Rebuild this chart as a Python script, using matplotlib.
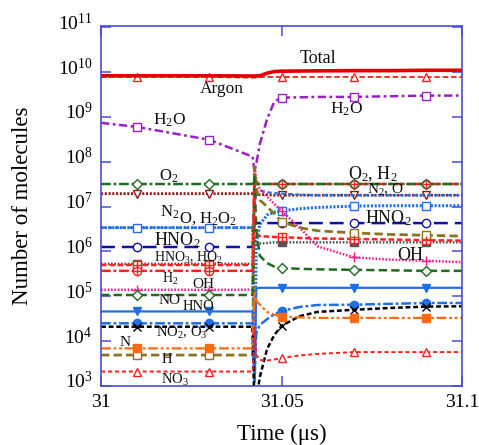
import math
import matplotlib
matplotlib.use("Agg")
import matplotlib.pyplot as plt
from matplotlib.transforms import ScaledTranslation
from matplotlib.ticker import FixedLocator, FuncFormatter

plt.rcParams['font.family'] = ['Liberation Serif', 'DejaVu Serif']
plt.rcParams['mathtext.fontset'] = 'custom'
plt.rcParams['mathtext.rm'] = 'Liberation Serif'
plt.rcParams['mathtext.it'] = 'Liberation Serif:italic'
plt.rcParams['lines.scale_dashes'] = False

# time grid (us)
t = [31.0, 31.01, 31.03, 31.042, 31.0425, 31.043, 31.044, 31.046, 31.048,
     31.05, 31.055, 31.06, 31.07, 31.08, 31.09, 31.1]

# number of molecules for each species on that grid
total = [8.3e9, 8.3e9, 8.3e9, 8.2e9, 8.2e9, 8.2e9, 8.3e9, 9.5e9, 1.03e10,
         1.05e10, 1.06e10, 1.07e10, 1.08e10, 1.08e10, 1.1e10, 1.1e10]
argon = [7.8e9, 7.8e9, 7.8e9, 7.5e9, 7.5e9, 7.6e9, 7.7e9, 7.8e9, 7.8e9,
         7.8e9, 7.8e9, 7.8e9, 7.8e9, 7.8e9, 7.8e9, 7.8e9]
h2o = [7.4e8, 6.0e8, 3.1e8, 1.3e8, 6.0e7, 9e7, 2.5e8, 9e8, 2.2e9,
       2.7e9, 2.75e9, 2.8e9, 2.8e9, 2.9e9, 3.0e9, 3.0e9]
o2 = [3.2e7, 3.2e7, 3.2e7, 3.2e7, 3.6e7, 3.3e7, 3.2e7, 3.2e7, 3.2e7,
      3.2e7, 3.2e7, 3.2e7, 3.2e7, 3.2e7, 3.2e7, 3.2e7]
n2 = [1.95e7, 1.95e7, 1.95e7, 1.95e7, 1.9e7, 1.85e7, 1.85e7, 1.85e7, 1.8e7,
      1.8e7, 1.8e7, 1.8e7, 1.8e7, 1.8e7, 1.8e7, 1.8e7]
o = [3.4e6, 3.4e6, 3.4e6, 3.4e6, 1.0e7, 2.4e7, 2.3e7, 2.1e7, 2.0e7,
     1.95e7, 1.85e7, 1.8e7, 1.8e7, 1.8e7, 1.8e7, 1.8e7]
h2o2 = [3.4e6, 3.4e6, 3.4e6, 3.4e6, 1.2e3, 1.5e6, 4e6, 6.5e6, 7.5e6,
        8e6, 9e6, 9.6e6, 1.03e7, 1.05e7, 1.05e7, 1.05e7]
hno2 = [1.26e6, 1.26e6, 1.26e6, 1.26e6, 4.0e6, 4.3e6, 4.3e6, 4.3e6, 4.3e6,
        4.3e6, 4.3e6, 4.3e6, 4.3e6, 4.3e6, 4.3e6, 4.3e6]
hno3 = [5.3e5, 5.3e5, 5.3e5, 5.3e5, 2e6, 1.5e6, 1.5e6, 1.55e6, 1.6e6,
        1.6e6, 1.6e6, 1.6e6, 1.6e6, 1.6e6, 1.6e6, 1.6e6]
ho2 = [5.0e5, 5.0e5, 5.0e5, 5.0e5, 2.4e6, 2.3e6, 2.2e6, 2.15e6, 2.1e6,
       2.1e6, 2.0e6, 1.95e6, 1.9e6, 1.85e6, 1.78e6, 1.75e6]
h2 = [3.7e5, 3.7e5, 3.7e5, 3.7e5, 3.2e7, 3.2e7, 3.2e7, 3.2e7, 3.2e7,
      3.2e7, 3.2e7, 3.2e7, 3.2e7, 3.2e7, 3.2e7, 3.2e7]
oh = [1.4e5, 1.4e5, 1.4e5, 1.4e5, 8e7, 4e7, 2.4e7, 1.66e7, 1.15e7,
      8e6, 3.4e6, 1.3e6, 7.4e5, 6.6e5, 6.2e5, 5.8e5]
h = [4.9e3, 4.9e3, 4.9e3, 4.9e3, 8e7, 2.5e7, 1.4e7, 1.0e7, 6.9e6,
     4.6e6, 3.4e6, 2.9e6, 2.6e6, 2.4e6, 2.3e6, 2.2e6]
no = [1.07e5, 1.07e5, 1.07e5, 1.07e5, 5e7, 3e6, 8e5, 5.5e5, 4.6e5,
      4.3e5, 4.1e5, 4.0e5, 3.9e5, 3.8e5, 3.7e5, 3.7e5]
hno = [4.6e4, 4.6e4, 4.6e4, 4.6e4, 1.2e3, 1.5e5, 1.55e5, 1.55e5, 1.55e5,
       1.55e5, 1.55e5, 1.55e5, 1.55e5, 1.55e5, 1.55e5, 1.55e5]
no2 = [2.5e4, 2.5e4, 2.5e4, 2.5e4, 1.2e3, 1.5e4, 2.3e4, 3.1e4, 4.0e4,
       4.7e4, 5.8e4, 6.4e4, 6.5e4, 6.8e4, 7.1e4, 7.1e4]
o3 = [2.1e4, 2.1e4, 2.1e4, 2.1e4, 3e2, 5e2, 1.6e3, 6.7e3, 1.37e4,
      2.2e4, 3.6e4, 4.5e4, 5.0e4, 5.5e4, 5.9e4, 6.0e4]
n = [6.9e3, 6.9e3, 6.9e3, 6.9e3, 1.2e5, 8e4, 6.5e4, 4.5e4, 3.9e4,
     3.5e4, 3.4e4, 3.3e4, 3.3e4, 3.3e4, 3.3e4, 3.3e4]
no3 = [2.1e3, 2.1e3, 2.1e3, 2.1e3, 2e4, 5e3, 3.8e3, 3.7e3, 3.9e3,
       4.2e3, 4.8e3, 5.2e3, 5.7e3, 5.7e3, 5.7e3, 5.7e3]

marks = [1, 2, 9, 12, 14]   # points that carry a marker

RED = '#ff2020'
BLUE = '#1f6fe6'
GREEN = '#1f6b1f'

# (values, color, lw, dashes, marker, filled, marker size)
series = [
    (argon, RED, 1.3, (4, 2), '^', False, 6),
    (total, '#e00000', 2.6, None, None, False, 0),
    (h2o, '#9a1fc4', 1.8, (6, 2.5, 2, 2.5), 's', False, 6),
    (n2, '#8b1a1a', 2.0, (1.5, 1.2), 'v', False, 6),
    (o, BLUE, 1.6, (3, 2), None, False, 0),
    (h2o2, BLUE, 2.2, (1.5, 1.2), 's', False, 6),
    (hno2, '#1010a8', 1.8, (10, 5), 'o', False, 6),
    (hno3, '#555555', 1.8, (1.2, 1.2), 's', True, 6),
    (ho2, RED, 1.8, (4, 2), 's', False, 6),
    (oh, '#ff1a8c', 1.8, (1.2, 1.2), '+', False, 7),
    (h, '#8a7420', 2.0, (6, 3), 's', False, 6),
    (no, GREEN, 1.8, (6, 3), 'D', False, 5),
    (hno, BLUE, 1.6, None, 'v', True, 6),
    (no2, BLUE, 1.8, (7, 2, 2, 2), 'o', True, 6),
    (o3, 'black', 1.8, (3.5, 2), 'x', False, 6),
    (n, '#ff6a10', 1.6, (7, 2, 2, 2, 2, 2), 's', True, 6),
    (no3, RED, 1.4, (3, 2), '^', False, 6),
    (h2, RED, 1.8, (7, 2, 2, 2), 'o', False, 6),
    (o2, GREEN, 1.8, (7, 2, 2, 2), 'D', False, 5),
]

fig = plt.figure(figsize=(4.79, 4.45), dpi=100)
ax = fig.add_axes([0.2109, 0.1326, 0.7537, 0.809])

for vals, col, lw, dash, mk, filled, ms in series:
    line, = ax.plot(t, vals, color=col, lw=lw)
    if dash is not None:
        line.set_dashes(dash)
    if mk is not None:
        ax.plot(t, vals, ls='none', marker=mk, markevery=marks, ms=ms,
                mec=col, mfc=col if filled else 'white', mew=1.0)

# cross marks inside HO2 squares and H2 circles
ax.plot(t, ho2, ls='none', marker='+', markevery=marks, ms=6, mec=RED, mew=1.0)
ax.plot(t, h2, ls='none', marker='+', markevery=marks, ms=6, mec=RED, mew=1.0)

ax.set_yscale('log')
ax.set_xlim(31.0, 31.1)
ax.set_ylim(1e3, 1.07e11)

ax.xaxis.set_major_locator(FixedLocator([31.0, 31.05, 31.1]))
ax.xaxis.set_major_formatter(FuncFormatter(lambda v, p: '%g' % round(v, 3)))
ax.yaxis.set_major_locator(FixedLocator([10.0 ** k for k in range(3, 12)]))
ax.yaxis.set_minor_locator(FixedLocator([]))
ax.yaxis.set_major_formatter(FuncFormatter(lambda v, p: r'$10^{%d}$' % round(math.log10(v))))

spine_col = '#4b4bd6'
for s in ax.spines.values():
    s.set_color(spine_col)
    s.set_linewidth(1.2)
ax.tick_params(which='both', direction='in', top=True, right=True,
               color=spine_col, length=7, width=1.1, labelsize=14, pad=6)
for lab in ax.get_yticklabels():
    lab.set_transform(lab.get_transform() + ScaledTranslation(0, 6 / 100, fig.dpi_scale_trans))

ax.set_xlabel('Time (μs)', fontsize=16.5, labelpad=9)
ax.set_ylabel('Number of molecules', fontsize=16.5, labelpad=18)

labels = [
    ('Total', 31.0601, 2.05e10, 13),
    ('Argon', 31.0335, 4.2e9, 12.5),
    (r'H$_2$O', 31.0191, 8.5e8, 12.5),
    (r'H$_2$O', 31.0679, 1.5e9, 12.5),
    (r'O$_2$', 31.0186, 4.8e7, 12),
    (r'N$_2$', 31.0191, 7.5e6, 12),
    (r'O, H$_2$O$_2$', 31.0296, 5.3e6, 12),
    (r'HNO$_2$', 31.0211, 1.8e6, 13),
    (r'HNO$_3$, HO$_2$', 31.0241, 7.1e5, 10),
    (r'H$_2$', 31.0191, 2.5e5, 10),
    ('OH', 31.0283, 1.8e5, 11),
    ('NO', 31.0191, 8.2e4, 11),
    ('HNO', 31.0269, 6.0e4, 10.5),
    (r'NO$_2$, O$_3$', 31.0224, 1.5e4, 10.5),
    ('N', 31.0066, 9.5e3, 11),
    ('H', 31.0183, 3.8e3, 10.5),
    (r'NO$_3$', 31.0205, 1.35e3, 10.5),
    (r'O$_2$, H$_2$', 31.0753, 5.3e7, 13),
    (r'N$_2$, O', 31.0787, 2.3e7, 11),
    (r'HNO$_2$', 31.0795, 5.5e6, 13),
    ('OH', 31.0856, 8.3e5, 13),
]
for txt, x, y, fs in labels:
    ax.text(x, y, txt, fontsize=fs, ha='center', va='center', color='#111111')

fig.savefig('out.png', dpi=100)
